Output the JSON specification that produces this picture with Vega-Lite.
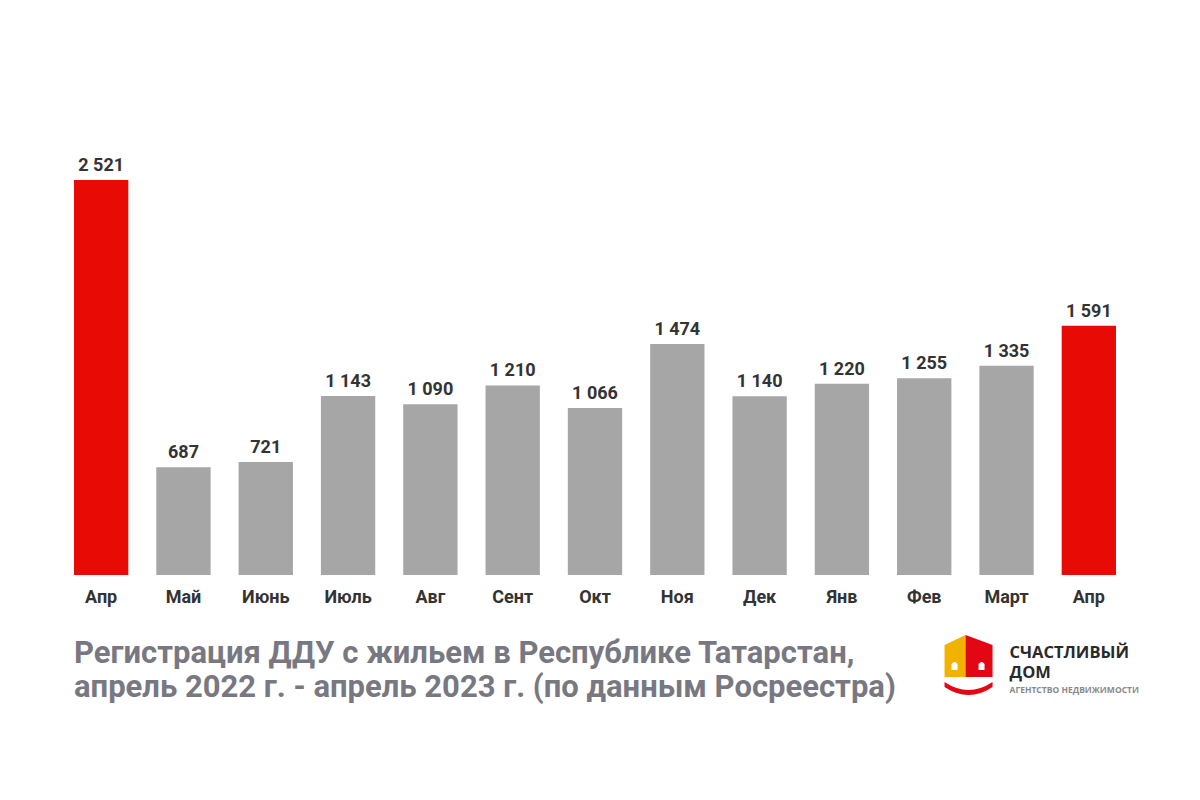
{
  "$schema": "https://vega.github.io/schema/vega-lite/v6.json",
  "width": 1070,
  "height": 475,
  "autosize": {"type": "none"},
  "padding": {"left": 60, "top": 100, "right": 70, "bottom": 225},
  "background": "white",
  "config": {
    "view": {"stroke": null},
    "font": "Roboto",
    "locale": {"number": {"decimal": ",", "thousands": " ", "grouping": [3], "currency": ["", ""]}}
  },
  "title": {
    "text": ["Регистрация ДДУ с жильем в Республике Татарстан,", "апрель 2022 г. - апрель 2023 г. (по данным Росреестра)"],
    "orient": "bottom",
    "anchor": "start",
    "frame": "group",
    "baseline": "top",
    "dx": 14,
    "offset": -56,
    "font": "Roboto",
    "fontSize": 31,
    "fontWeight": "bold",
    "lineHeight": 34,
    "color": "#787882"
  },
  "data": {
    "values": [
      {"key": "Апр 2022", "value": 2521, "group": "april"},
      {"key": "Май 2022", "value": 687, "group": "other"},
      {"key": "Июнь 2022", "value": 721, "group": "other"},
      {"key": "Июль 2022", "value": 1143, "group": "other"},
      {"key": "Авг 2022", "value": 1090, "group": "other"},
      {"key": "Сент 2022", "value": 1210, "group": "other"},
      {"key": "Окт 2022", "value": 1066, "group": "other"},
      {"key": "Ноя 2022", "value": 1474, "group": "other"},
      {"key": "Дек 2022", "value": 1140, "group": "other"},
      {"key": "Янв 2023", "value": 1220, "group": "other"},
      {"key": "Фев 2023", "value": 1255, "group": "other"},
      {"key": "Март 2023", "value": 1335, "group": "other"},
      {"key": "Апр 2023", "value": 1591, "group": "april"}
    ]
  },
  "layer": [
    {
      "mark": {"type": "bar"},
      "encoding": {
        "x": {
          "field": "key", "type": "nominal", "sort": null,
          "scale": {"paddingInner": 0.34, "paddingOuter": 0.17},
          "axis": {
            "title": null, "labelAngle": 0, "domain": false, "ticks": false,
            "labelFontSize": 18, "labelFontWeight": "bold", "labelColor": "#333333",
            "labelPadding": 13, "labelFont": "Roboto",
            "labelExpr": "split(datum.label, ' ')[0]"
          }
        },
        "y": {"field": "value", "type": "quantitative", "scale": {"domain": [0, 3031], "nice": false, "zero": true}, "axis": null},
        "color": {
          "field": "group", "type": "nominal",
          "scale": {"domain": ["april", "other"], "range": ["#e80a05", "#a6a6a6"]},
          "legend": null
        }
      }
    },
    {
      "mark": {"type": "text", "baseline": "alphabetic", "dy": -9, "fontSize": 18, "fontWeight": "bold", "color": "#333333", "font": "Roboto"},
      "encoding": {
        "x": {"field": "key", "type": "nominal", "sort": null},
        "y": {"field": "value", "type": "quantitative"},
        "text": {"field": "value", "type": "quantitative", "format": ",d"}
      }
    },
    {
      "data": {"values": [{"part": "house left"}]},
      "mark": {"type": "point", "filled": true, "opacity": 1, "size": 10000, "color": "#f2b200", "strokeWidth": 0,
        "shape": "M -1.24,-0.4 L -0.82,-0.6 L -0.82,0.24 L -1.24,0.24 Z"},
      "encoding": {"x": {"datum": "Март 2023", "type": "nominal"}, "y": {"datum": -574, "type": "quantitative"}}
    },
    {
      "data": {"values": [{"part": "house right"}]},
      "mark": {"type": "point", "filled": true, "opacity": 1, "size": 10000, "color": "#e30613", "strokeWidth": 0,
        "shape": "M -0.82,-0.6 L -0.28,-0.4 L -0.28,0.24 L -0.82,0.24 Z"},
      "encoding": {"x": {"datum": "Март 2023", "type": "nominal"}, "y": {"datum": -574, "type": "quantitative"}}
    },
    {
      "data": {"values": [{"part": "windows"}]},
      "mark": {"type": "point", "filled": true, "opacity": 1, "size": 10000, "color": "#ffffff", "strokeWidth": 0,
        "shape": "M -1.1,0.1 L -1.1,-0.02 Q -1.04,-0.1 -0.98,-0.02 L -0.98,0.1 Z M -0.56,0.1 L -0.56,-0.02 Q -0.5,-0.1 -0.44,-0.02 L -0.44,0.1 Z"},
      "encoding": {"x": {"datum": "Март 2023", "type": "nominal"}, "y": {"datum": -574, "type": "quantitative"}}
    },
    {
      "data": {"values": [{"part": "smile"}]},
      "mark": {"type": "point", "filled": true, "opacity": 1, "size": 10000, "color": "#e30613", "strokeWidth": 0,
        "shape": "M -1.24,0.44 Q -0.76,0.76 -0.28,0.44 L -0.28,0.34 Q -0.76,0.66 -1.24,0.34 Z"},
      "encoding": {"x": {"datum": "Март 2023", "type": "nominal"}, "y": {"datum": -574, "type": "quantitative"}}
    },
    {
      "data": {"values": [{"text": "СЧАСТЛИВЫЙ"}]},
      "mark": {"type": "text", "align": "left", "baseline": "alphabetic", "dx": 3, "font": "Open Sans", "fontSize": 16.5, "fontWeight": "bold", "color": "#2a2a2a"},
      "encoding": {"x": {"datum": "Март 2023", "type": "nominal"}, "y": {"datum": -530, "type": "quantitative"}, "text": {"field": "text"}}
    },
    {
      "data": {"values": [{"text": "ДОМ"}]},
      "mark": {"type": "text", "align": "left", "baseline": "alphabetic", "dx": 3, "font": "Open Sans", "fontSize": 16.5, "fontWeight": "bold", "color": "#2a2a2a"},
      "encoding": {"x": {"datum": "Март 2023", "type": "nominal"}, "y": {"datum": -660, "type": "quantitative"}, "text": {"field": "text"}}
    },
    {
      "data": {"values": [{"text": "АГЕНТСТВО НЕДВИЖИМОСТИ"}]},
      "mark": {"type": "text", "align": "left", "baseline": "alphabetic", "dx": 3, "font": "Open Sans", "fontSize": 8.5, "fontWeight": "bold", "color": "#8a8a8a"},
      "encoding": {"x": {"datum": "Март 2023", "type": "nominal"}, "y": {"datum": -750, "type": "quantitative"}, "text": {"field": "text"}}
    }
  ]
}
